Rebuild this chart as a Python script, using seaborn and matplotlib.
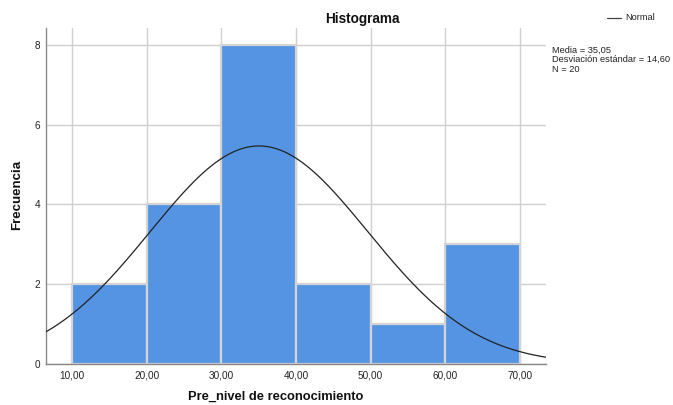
import numpy as np
import pandas as pd
import matplotlib
matplotlib.use("Agg")
import matplotlib.pyplot as plt
import seaborn as sns

# Data
bin_edges = [10, 20, 30, 40, 50, 60, 70]
bin_counts = [2, 4, 8, 2, 1, 3]
mean_val = 35.05
sd_val = 14.60
n_val = 20
x_ticks = [10, 20, 30, 40, 50, 60, 70]
x_tick_labels = ["10,00", "20,00", "30,00", "40,00", "50,00", "60,00", "70,00"]
y_ticks = [0, 2, 4, 6, 8]

sns.set_theme(style="white")
plt.rcParams['font.family'] = ['Liberation Sans', 'DejaVu Sans']

fig = plt.figure(figsize=(6.73, 4.05), dpi=100)
ax = fig.add_axes([0.0684, 0.1012, 0.7426, 0.8296])

mids = [(a + b) / 2 for a, b in zip(bin_edges[:-1], bin_edges[1:])]
df = pd.DataFrame({"x": mids, "w": bin_counts})
sns.histplot(data=df, x="x", weights="w", bins=bin_edges, ax=ax,
             color="#5594e3", alpha=1, edgecolor="#d4d4d4", linewidth=1.6,
             zorder=2)

xlim = (6.5, 73.5)
xs = np.linspace(xlim[0], xlim[1], 400)
binw = bin_edges[1] - bin_edges[0]
ys = n_val * binw / (sd_val * np.sqrt(2 * np.pi)) * np.exp(-0.5 * ((xs - mean_val) / sd_val) ** 2)
sns.lineplot(x=xs, y=ys, ax=ax, color="#222222", linewidth=0.9, zorder=3)

ax.set_xlim(*xlim)
ax.set_ylim(0, 8.42)
ax.set_xticks(x_ticks)
ax.set_xticklabels(x_tick_labels, fontsize=7.2)
ax.set_yticks(y_ticks)
ax.set_yticklabels([str(v) for v in y_ticks], fontsize=7.2)
ax.grid(True, color="#d0d0d0", linewidth=1.0, zorder=0)
ax.set_axisbelow(True)
for s in ["top", "right"]:
    ax.spines[s].set_visible(False)
for s in ["left", "bottom"]:
    ax.spines[s].set_color("#888888")
    ax.spines[s].set_linewidth(1.0)
ax.tick_params(axis="x", length=0, pad=5, colors="#222222")
ax.tick_params(axis="y", length=0, pad=4, colors="#222222")
ax.set_xlabel("")
ax.set_ylabel("")

fig.text(362 / 673, 1 - 19 / 405, "Histograma", ha="center", va="center",
         fontsize=9.8, fontweight="bold", color="#111111")
fig.text(17 / 673, 1 - 195 / 405, "Frecuencia", ha="center", va="center",
         rotation=90, fontsize=9.5, fontweight="bold", color="#111111")
fig.text(276 / 673, 1 - 397 / 405, "Pre_nivel de reconocimiento", ha="center",
         va="center", fontsize=9.3, fontweight="bold", color="#111111")

# legend
fig.add_artist(plt.Line2D([607 / 673, 621 / 673], [1 - 18 / 405, 1 - 18 / 405],
                          color="#444444", linewidth=0.9))
fig.text(625 / 673, 1 - 18 / 405, "Normal", ha="left", va="center", fontsize=6.6,
         color="#222222")
stats = f"Media = {mean_val:.2f}".replace(".", ",") + "\n" + \
        f"Desviación estándar = {sd_val:.2f}".replace(".", ",") + "\n" + \
        f"N = {n_val}"
fig.text(552 / 673, 1 - 45.5 / 405, stats, ha="left", va="top", fontsize=6.7,
         color="#222222", linespacing=1.1)

fig.savefig("out.png", dpi=100)
